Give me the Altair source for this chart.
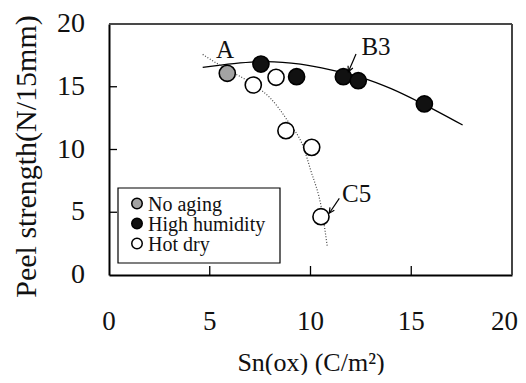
import altair as alt
import pandas as pd

FONT = "Liberation Serif"

groups = ["No aging", "High humidity", "Hot dry"]
group_fills = ["#a3a3a3", "#111111", "#ffffff"]

noaging_x = [5.87]
noaging_y = [16.07]
humid_x = [7.54, 9.31, 11.63, 12.37, 15.65]
humid_y = [16.81, 15.80, 15.80, 15.48, 13.63]
hot_x = [7.16, 8.29, 8.78, 10.06, 10.52]
hot_y = [15.14, 15.75, 11.50, 10.17, 4.65]

solid_x = [4.65, 6.2, 7.8, 9.5, 11.0, 12.5, 14.0, 15.5, 17.55]
solid_y = [16.55, 16.85, 17.0, 16.8, 16.35, 15.75, 14.85, 13.7, 11.95]
dotted_x = [4.65, 5.67, 7.33, 8.0, 8.9, 9.64, 10.0, 10.56, 10.83]
dotted_y = [17.58, 16.55, 15.0, 14.1, 12.2, 10.22, 8.4, 5.18, 2.31]

label_text = ["A", "B3", "C5"]
label_x = [5.76, 13.25, 12.29]
label_y = [17.29, 17.53, 5.84]

arrow_x = [12.26, 11.43]
arrow_y = [17.61, 6.11]
arrow_x2 = [11.88, 10.93]
arrow_y2 = [16.20, 4.92]
arrow_angle = [23.5, 33.7]

x_ticks = [0, 5, 10, 15, 20]
y_ticks = [0, 5, 10, 15, 20]
inner_ticks = [5, 10, 15]

W, H = 403, 251

pts = pd.DataFrame({
    "x": noaging_x + humid_x + hot_x,
    "y": noaging_y + humid_y + hot_y,
    "g": [groups[0]] * len(noaging_x) + [groups[1]] * len(humid_x) + [groups[2]] * len(hot_x),
})
solid = pd.DataFrame({"x": solid_x, "y": solid_y})
dotted = pd.DataFrame({"x": dotted_x, "y": dotted_y})
labels = pd.DataFrame({"t": label_text, "x": label_x, "y": label_y})
arrows = pd.DataFrame({"x": arrow_x, "y": arrow_y, "x2": arrow_x2, "y2": arrow_y2, "a": arrow_angle})
xt = pd.DataFrame({"v": x_ticks})
yt = pd.DataFrame({"v": y_ticks})
it = pd.DataFrame({"v": inner_ticks})
leg = pd.DataFrame({"g": groups})

xs = alt.Scale(domain=[0, 20], nice=False, zero=False)
ys = alt.Scale(domain=[0, 20], nice=False, zero=False)
fill_scale = alt.Scale(domain=groups, range=group_fills)

x_main = alt.Axis(values=x_ticks, ticks=False, labels=False, grid=False, domainColor="black",
                  domainWidth=2, title="Sn(ox) (C/m²)", titleFont=FONT, titleFontSize=26,
                  titleFontWeight="normal", titleColor="#111", titleY=95, titleBaseline="alphabetic")
y_main = alt.Axis(values=y_ticks, ticks=False, labels=False, grid=False, domainColor="black",
                  domainWidth=2, title="Peel strength(N/15mm)", titleFont=FONT, titleFontSize=30,
                  titleFontWeight="normal", titleColor="#111", titleX=-74, titleY=132,
                  titleBaseline="alphabetic", titleAngle=270, titleAlign="center")

# frame (top and right edges)
frame_top = alt.Chart(xt).mark_rule(color="#444", strokeWidth=1.2).encode(
    x=alt.value(0), x2=alt.value(W), y=alt.value(0))
frame_right = alt.Chart(xt).mark_rule(color="#444", strokeWidth=1.2).encode(
    x=alt.value(W), y=alt.value(0), y2=alt.value(H))

# inward ticks
xtick_layer = alt.Chart(it).mark_rule(color="black", strokeWidth=1.3).encode(
    x=alt.X("v:Q", scale=xs, axis=None), y=alt.value(H), y2=alt.value(H - 9))
ytick_layer = alt.Chart(it).mark_rule(color="black", strokeWidth=1.3).encode(
    y=alt.Y("v:Q", scale=ys, axis=None), x=alt.value(0), x2=alt.value(8))

# tick labels
xlab_layer = alt.Chart(xt).transform_filter("datum.v < 20").mark_text(
    font=FONT, fontSize=27, color="#111", align="center", baseline="alphabetic").encode(
    x=alt.X("v:Q", scale=xs, axis=None), y=alt.value(H + 55), text=alt.Text("v:Q", format="d"))
xlab_last = alt.Chart(xt).transform_filter("datum.v >= 20").mark_text(
    font=FONT, fontSize=27, color="#111", align="right", dx=6, baseline="alphabetic").encode(
    x=alt.X("v:Q", scale=xs, axis=None), y=alt.value(H + 55), text=alt.Text("v:Q", format="d"))
ylab_layer = alt.Chart(yt).mark_text(
    font=FONT, fontSize=28, color="#111", align="right", baseline="alphabetic", dy=8).encode(
    y=alt.Y("v:Q", scale=ys, axis=None), x=alt.value(-24), text=alt.Text("v:Q", format="d"))

solid_layer = alt.Chart(solid).mark_line(color="black", strokeWidth=1.3, interpolate="monotone").encode(
    x=alt.X("x:Q", scale=xs, axis=x_main), y=alt.Y("y:Q", scale=ys, axis=y_main))
dotted_layer = alt.Chart(dotted).mark_line(color="#444", strokeWidth=1.2, strokeDash=[1, 1.8],
                                           interpolate="monotone").encode(
    x=alt.X("x:Q", scale=xs, axis=None), y=alt.Y("y:Q", scale=ys, axis=None))
point_layer = alt.Chart(pts).mark_point(shape="circle", filled=True, size=260, stroke="black",
                                        strokeWidth=1.6, opacity=1).encode(
    x=alt.X("x:Q", scale=xs, axis=None), y=alt.Y("y:Q", scale=ys, axis=None),
    fill=alt.Fill("g:N", scale=fill_scale, legend=None))
text_layer = alt.Chart(labels).mark_text(font=FONT, fontSize=25, color="#111", align="center",
                                         baseline="alphabetic").encode(
    x=alt.X("x:Q", scale=xs, axis=None), y=alt.Y("y:Q", scale=ys, axis=None), text="t:N")
shaft_layer = alt.Chart(arrows).mark_rule(color="black", strokeWidth=1.2).encode(
    x=alt.X("x:Q", scale=xs, axis=None), y=alt.Y("y:Q", scale=ys, axis=None), x2="x2:Q", y2="y2:Q")
head_layer = alt.Chart(arrows).mark_point(shape="M-0.5,-1L0,0L0.5,-1", filled=False, size=110,
                                          stroke="black", strokeWidth=1.2, opacity=1).encode(
    x=alt.X("x2:Q", scale=xs, axis=None), y=alt.Y("y2:Q", scale=ys, axis=None),
    angle=alt.Angle("a:Q", scale=None))

# legend (inside plot, lower left)
legend_layers = [alt.Chart(leg).transform_filter(alt.datum.g == groups[0]).mark_rect(
    fill="white", stroke="black", strokeWidth=1.2).encode(
    x=alt.value(9), x2=alt.value(171), y=alt.value(164), y2=alt.value(239))]
for i, g in enumerate(groups):
    legend_layers.append(alt.Chart(leg).transform_filter(alt.datum.g == g).mark_point(
        shape="circle", filled=True, size=110, stroke="black", strokeWidth=1.5, opacity=1).encode(
        x=alt.value(28), y=alt.value(179.5 + 20 * i),
        fill=alt.Fill("g:N", scale=fill_scale, legend=None)))
    legend_layers.append(alt.Chart(leg).transform_filter(alt.datum.g == g).mark_text(
        font=FONT, fontSize=20, color="#111", align="left", baseline="alphabetic").encode(
        x=alt.value(39), y=alt.value(186.5 + 20 * i), text="g:N"))

chart = alt.layer(
    solid_layer, dotted_layer, frame_top, frame_right, xtick_layer, ytick_layer,
    xlab_layer, xlab_last, ylab_layer, point_layer, text_layer, shaft_layer, head_layer,
    *legend_layers,
).resolve_axis(x="independent", y="independent").properties(
    width=W, height=H,
    padding={"left": 101, "top": 16, "right": 6, "bottom": 100},
    autosize=alt.AutoSizeParams(type="none"),
    background="white",
).configure(font=FONT).configure_view(stroke=None)

chart.save("out.html", embed_options={"renderer": "svg", "actions": False})
